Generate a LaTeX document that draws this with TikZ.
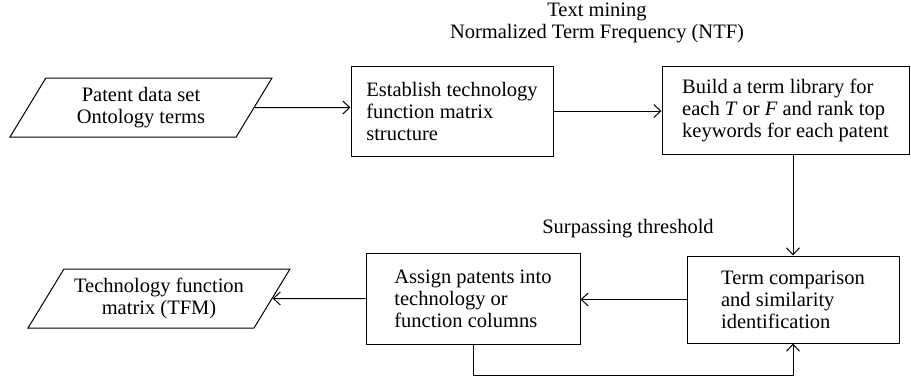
\documentclass[tikz,border=0pt]{standalone}
\usepackage{fontspec}
\setmainfont{Liberation Serif}
\usetikzlibrary{arrows.meta}
\usetikzlibrary{shapes.geometric}
\tikzset{
  txt/.style={font=\fontsize{20.5}{22}\selectfont},
  procbox/.style={txt,draw=black,rectangle,align=left,inner sep=0pt,line width=1pt},
  iobox/.style={txt,draw=black,trapezium,trapezium left angle=48.6,trapezium right angle=131.4,
    trapezium stretches body,minimum height=59pt,minimum width=262pt,align=center,inner sep=0pt,line width=1pt},
  flow/.style={-{Straight Barb[length=7pt,width=13pt]},line width=1pt}
}

\begin{document}
\begin{tikzpicture}[x=1pt,y=-1pt]
\useasboundingbox (0,0) rectangle (911,381);
\node (data) [iobox] at (141,107.5) {Patent data set\\Ontology terms};
\node (est) [procbox,minimum width=202pt,minimum height=90pt] at (452,111) {Establish technology\\function matrix\\structure};
\node (build) [procbox,minimum width=247pt,minimum height=88pt] at (785.5,110) {Build a term library for\\each \textit{T} or \textit{F} and rank top\\keywords for each patent};
\node (term) [procbox,minimum width=212pt,minimum height=87pt] at (793,299.5) {Term comparison\\and similarity\\identification};
\node (assign) [procbox,minimum width=214pt,minimum height=91pt] at (473,298.5) {Assign patents into\\technology or\\function columns};
\node (tfm) [iobox] at (159,298.5) {Technology function\\matrix (TFM)};
\node (mining) [txt,align=center] at (597,22.5) {Text mining\\Normalized Term Frequency (NTF)};
\node (thresh) [txt] at (628,229) {Surpassing threshold};

\draw[flow] (data) -- (data -| est.west);
\draw[flow] (est.east) -- (est.east -| build.west);
\draw[flow] (build.south -| term.north) -- (term.north);
\draw[flow] (term) -- (term -| assign.east);
\draw[flow] (assign) -- (tfm);
\draw[flow] (assign.south) -- ++(0,31) -| (term.south);
\end{tikzpicture}
\end{document}
